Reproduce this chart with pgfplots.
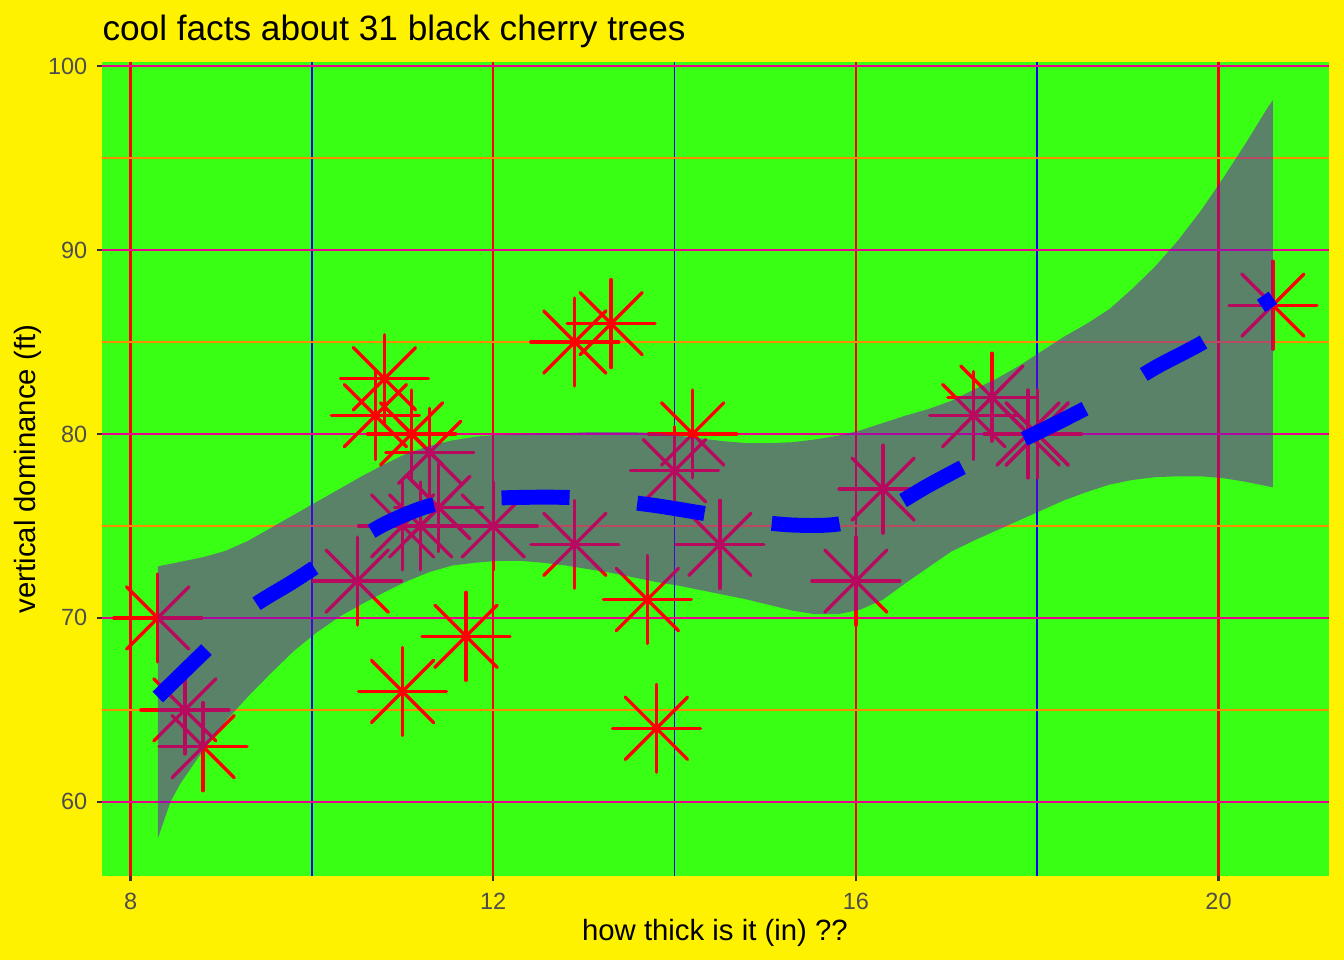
\documentclass[border=0pt]{standalone}
\usepackage{fontspec}
\setmainfont{Liberation Sans}
\usepackage{pgfplots}
\usepackage{pgfplotstable}
\pgfplotsset{compat=1.18}

\definecolor{panelgreen}{RGB}{57,255,20}
\definecolor{bandfill}{RGB}{119,19,181}
\definecolor{minorgrid}{RGB}{255,140,0}
\definecolor{ticklab}{RGB}{77,77,77}
\definecolor{tickcol}{RGB}{51,51,51}

% girth (in) vs height (ft), 31 trees
\pgfplotstableread{
girth height
8.3 70
8.6 65
8.8 63
10.5 72
10.7 81
10.8 83
11.0 66
11.0 75
11.1 80
11.2 75
11.3 79
11.4 76
11.4 76
11.7 69
12.0 75
12.9 74
12.9 85
13.3 86
13.7 71
13.8 64
14.0 78
14.2 80
14.5 74
16.0 72
16.3 77
17.3 81
17.5 82
17.9 80
18.0 80
18.0 80
20.6 87
}\trees

% smoothed fit
\pgfplotstableread{
x fit
8.3 65.7
8.8 68.1
9.3 70.45
9.8 72.0
10.3 73.6
10.8 75.1
11.3 76.1
11.8 76.45
12.3 76.55
12.8 76.55
13.3 76.4
13.8 76.1
14.3 75.7
14.8 75.3
15.3 75.05
15.8 75.1
16.3 75.8
16.8 77.2
17.3 78.5
17.8 79.6
18.3 80.8
18.8 82.1
19.3 83.6
19.8 84.9
20.3 86.4
20.6 87.4
}\fitline

% confidence band outline: upper edge left to right, then lower edge back
\pgfplotstableread{
x y
8.3 72.8
8.55 73.05
8.8 73.3
9.05 73.65
9.3 74.2
9.55 74.9
9.8 75.6
10.05 76.3
10.3 77.0
10.55 77.7
10.8 78.35
11.05 78.95
11.3 79.35
11.55 79.65
11.8 79.85
12.05 79.95
12.3 80.0
12.55 80.05
12.8 80.05
13.05 80.1
13.3 80.1
13.55 80.1
13.8 80.05
14.05 79.9
14.3 79.75
14.55 79.6
14.8 79.5
15.05 79.5
15.3 79.55
15.55 79.7
15.8 79.9
16.05 80.2
16.3 80.6
16.55 81.0
16.8 81.35
17.05 81.8
17.3 82.4
17.55 83.0
17.8 83.7
18.05 84.5
18.3 85.3
18.55 86.0
18.8 86.8
19.05 87.9
19.3 89.1
19.55 90.5
19.8 92.1
20.05 93.9
20.3 95.8
20.55 97.8
20.6 98.15
20.6 77.1
20.55 77.15
20.3 77.4
20.05 77.6
19.8 77.7
19.55 77.7
19.3 77.65
19.05 77.5
18.8 77.25
18.55 76.85
18.3 76.4
18.05 75.85
17.8 75.3
17.55 74.75
17.3 74.2
17.05 73.6
16.8 72.75
16.55 71.9
16.3 71.0
16.05 70.45
15.8 70.2
15.55 70.2
15.3 70.4
15.05 70.7
14.8 71.0
14.55 71.25
14.3 71.5
14.05 71.75
13.8 71.95
13.55 72.2
13.3 72.45
13.05 72.65
12.8 72.85
12.55 73.0
12.3 73.1
12.05 73.1
11.8 73.0
11.55 72.85
11.3 72.5
11.05 72.0
10.8 71.4
10.55 70.75
10.3 70.05
10.05 69.2
9.8 68.2
9.55 67.0
9.3 65.75
9.05 64.4
8.8 62.8
8.55 61.0
8.44 60.0
8.3 58.0
}\band

\begin{document}
\begin{tikzpicture}[x=1pt,y=1pt]
\fill[yellow] (0,0) rectangle (504,360);
\useasboundingbox (0,0) rectangle (504,360);
\begin{axis}[
    at={(38.25pt,31.5pt)}, anchor=south west,
    scale only axis, width=460pt, height=305.25pt,
    xmin=7.685, xmax=21.215, ymin=55.97, ymax=100.22,
    axis background/.style={fill=panelgreen},
    axis line style={draw=none},
    xtick={8,12,16,20}, minor xtick={10,14,18},
    ytick={60,70,80,90,100}, minor ytick={65,75,85,95},
    grid=both,
    major x grid style={red, line width=0.9pt},
    minor x grid style={blue, line width=0.55pt},
    major y grid style={magenta, line width=1pt},
    minor y grid style={minorgrid, line width=0.5pt},
    tick align=outside, tick pos=left,
    major tick length=2pt, minor tick length=0pt,
    major tick style={tickcol, line width=0.8pt},
    /pgf/number format/assume math mode=true,
    tick label style={font=\fontsize{8.8}{10}\selectfont, text=ticklab},
    xticklabel style={yshift=-1pt},
    clip marker paths=true,
]
\addplot[only marks, mark=+, mark size=16.5pt, red, line width=1.25pt,
    mark options={line cap=round}] table[x=girth, y=height] {\trees};
\addplot[only marks, mark=x, mark size=16.5pt, red, line width=1.25pt,
    mark options={line cap=round}] table[x=girth, y=height] {\trees};
\addplot[fill=bandfill, fill opacity=0.53, draw=none] table[x=x, y=y] {\band};
\addplot[blue, line width=5.6pt, smooth, dash pattern=on 25.5pt off 25.5pt]
    table[x=x, y=fit] {\fitline};
\end{axis}
\node[anchor=base west, inner sep=0pt, font=\fontsize{13.2}{15}\selectfont] at (38.25,344.75)
    {cool facts about 31 black cherry trees};
\node[anchor=base, font=\fontsize{11}{13}\selectfont] at (268.1,7.5)
    {how thick is it (in) ??};
\node[anchor=center, rotate=90, font=\fontsize{11}{13}\selectfont] at (10.5,184.1)
    {vertical dominance (ft)};
\end{tikzpicture}
\end{document}
